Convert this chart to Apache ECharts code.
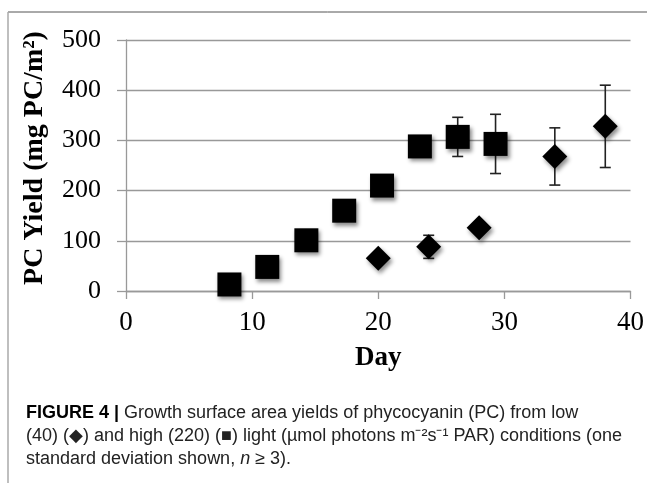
<!DOCTYPE html>
<html>
<head>
<meta charset="utf-8">
<script src="https://cdn.jsdelivr.net/npm/echarts@6/dist/echarts.min.js"></script>
<style>
  html, body { margin: 0; padding: 0; background: #fff; }
  #chart { width: 647px; height: 483px; }
</style>
</head>
<body>
<div id="chart"></div>
<script>
  // high light (220) - squares
  var highDays = [8.2, 11.2, 14.3, 17.3, 20.3, 23.3, 26.3, 29.3]
  var highYield = [13, 48, 101, 160, 210, 288, 307, 293]
  var highErr = [0, 0, 0, 0, 0, 0, 39, 59]
  // low light (40) - diamonds
  var lowDays = [20, 24, 28, 34, 38]
  var lowYield = [65, 88, 126, 268, 328]
  var lowErr = [0, 23, 0, 57, 82]

  var xTicks = [0, 10, 20, 30, 40]
  var yTicks = [0, 100, 200, 300, 400, 500]

  function pairs(xs, ys) {
    return xs.map(function (x, i) { return [x, ys[i]] })
  }
  function errRows(xs, ys, es) {
    var rows = []
    xs.forEach(function (x, i) {
      if (es[i] > 0) rows.push([x, ys[i] - es[i], ys[i] + es[i]])
    })
    return rows
  }

  var errorData = errRows(highDays, highYield, highErr).concat(errRows(lowDays, lowYield, lowErr))

  var markStyle = {
    color: '#000',
    opacity: 1,
    shadowColor: 'rgba(0,0,0,0.45)',
    shadowBlur: 4,
    shadowOffsetX: 2,
    shadowOffsetY: 3
  }

  var serif = 'Liberation Serif'
  var sans = 'Liberation Sans'

  var chart = echarts.init(document.getElementById('chart'))
  var option = {
    animation: false,
    backgroundColor: '#fff',
    grid: { left: 126, right: 15, top: 40, bottom: 192 },
    xAxis: {
      type: 'value',
      min: xTicks[0],
      max: xTicks[xTicks.length - 1],
      interval: 10,
      name: 'Day',
      nameLocation: 'middle',
      nameGap: 54,
      nameTextStyle: { fontFamily: serif, fontWeight: 'bold', fontSize: 27, color: '#000' },
      axisLine: { lineStyle: { color: '#999', width: 1.3 } },
      axisTick: { show: true, length: 8, lineStyle: { color: '#999', width: 1.3 } },
      splitLine: { show: false },
      axisLabel: { margin: 18, fontFamily: serif, fontSize: 27, color: '#000' }
    },
    yAxis: {
      type: 'value',
      min: yTicks[0],
      max: yTicks[yTicks.length - 1],
      interval: 100,
      axisLine: { show: true, lineStyle: { color: '#999', width: 1.3 } },
      axisTick: { show: true, length: 9, lineStyle: { color: '#999', width: 1.3 } },
      splitLine: { show: true, lineStyle: { color: '#999', width: 1.3 } },
      axisLabel: { margin: 25, fontFamily: serif, fontSize: 26, color: '#000' }
    },
    graphic: [
      { type: 'line', shape: { x1: 8, y1: 12, x2: 647, y2: 12 }, style: { stroke: '#555', lineWidth: 1 } },
      { type: 'line', shape: { x1: 8, y1: 12, x2: 8, y2: 483 }, style: { stroke: '#aaa', lineWidth: 1.5 } },
      {
        type: 'text', x: 35, y: 158, rotation: Math.PI / 2,
        style: {
          text: 'PC Yield (mg PC/m²)',
          fontFamily: serif, fontWeight: 'bold', fontSize: 28, fill: '#000',
          align: 'center', verticalAlign: 'middle'
        }
      },
      {
        type: 'text', left: 26, top: 404,
        style: {
          text: '{b|FIGURE 4 |} Growth surface area yields of phycocyanin (PC) from low',
          fontFamily: sans, fontSize: 18, fill: '#222',
          rich: { b: { fontWeight: 'bold', fontFamily: sans, fontSize: 18, fill: '#000' } }
        }
      },
      {
        type: 'text', left: 26, top: 427,
        style: {
          text: '(40) (◆) and high (220) (■) light (µmol photons m⁻²s⁻¹ PAR) conditions (one',
          fontFamily: sans, fontSize: 18, fill: '#222'
        }
      },
      {
        type: 'text', left: 26, top: 450,
        style: {
          text: 'standard deviation shown, {i|n} ≥ 3).',
          fontFamily: sans, fontSize: 18, fill: '#222',
          rich: { i: { fontStyle: 'italic', fontFamily: sans, fontSize: 18, fill: '#222' } }
        }
      }
    ],
    series: [
      {
        type: 'custom',
        name: 'sd',
        data: errorData,
        z: 1,
        renderItem: function (params, api) {
          var x = api.value(0)
          var lo = api.coord([x, api.value(1)])
          var hi = api.coord([x, api.value(2)])
          var cap = 5.5
          var st = { stroke: '#222', lineWidth: 1.6 }
          return {
            type: 'group',
            children: [
              { type: 'line', shape: { x1: lo[0], y1: lo[1], x2: hi[0], y2: hi[1] }, style: st },
              { type: 'line', shape: { x1: lo[0] - cap, y1: lo[1], x2: lo[0] + cap, y2: lo[1] }, style: st },
              { type: 'line', shape: { x1: hi[0] - cap, y1: hi[1], x2: hi[0] + cap, y2: hi[1] }, style: st }
            ]
          }
        }
      },
      {
        type: 'scatter',
        name: 'high (220)',
        symbol: 'rect',
        symbolSize: 24,
        z: 3,
        itemStyle: markStyle,
        data: pairs(highDays, highYield)
      },
      {
        type: 'scatter',
        name: 'low (40)',
        symbol: 'diamond',
        symbolSize: 25,
        z: 3,
        itemStyle: markStyle,
        data: pairs(lowDays, lowYield)
      }
    ]
  }
  chart.setOption(option)
</script>
</body>
</html>
